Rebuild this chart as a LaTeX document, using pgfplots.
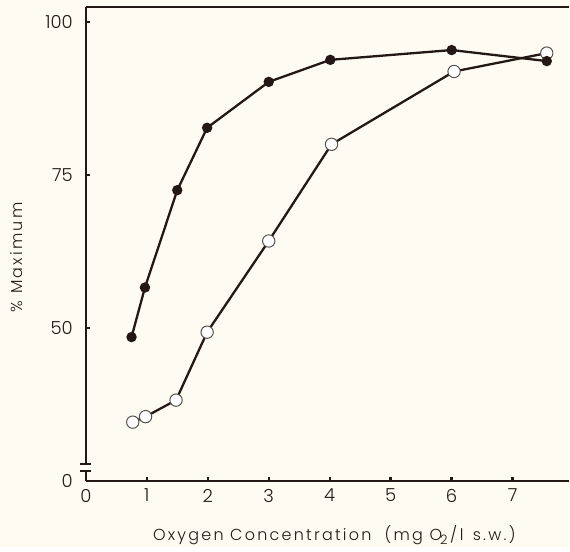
\documentclass[border=0pt]{standalone}
\usepackage{pgfplots}
\pgfplotsset{compat=1.18}
\usepackage{fontspec}
\setmainfont{Poppins Light}
\newfontfamily\spaced{Poppins Light}[LetterSpace=14]
\definecolor{ink}{HTML}{231815}
\definecolor{bg}{HTML}{FEFCF2}
\definecolor{ring}{HTML}{555050}
\begin{document}
\begin{tikzpicture}
\fill[bg] (-43pt,-33pt) rectangle (242pt,241pt);
\begin{axis}[
  scale only axis, width=242pt, height=237.5pt,
  xmin=0, xmax=7.92, ymin=25, ymax=102.44,
  axis x line*=bottom, axis y line*=left,
  axis line style={ink, line width=1.3pt, -},
  xtick={0,1,2,3,4,5,6,7},
  ytick={25,50,75,100}, yticklabels={0,50,75,100},
  tick align=inside, major tick length=2pt,
  tick style={ink, line width=1.2pt},
  ticklabel style={font=\fontsize{9}{10}\selectfont, text=ink},
  yticklabel style={xshift=-3pt},
  xticklabel style={yshift=-0.5pt},
  /pgf/number format/assume math mode=true,
  xlabel={\spaced Oxygen Concentration \ (mg O\kern-1pt\raisebox{-2pt}{\fontsize{6.5}{7}\selectfont 2}\,/\,l \,s.w.)},
  xlabel style={at={(axis description cs:0.5,0)}, anchor=base, yshift=-30pt, xshift=3.5pt, font=\fontsize{8}{9}\selectfont, text=ink},
  ylabel={\spaced \% Maximum},
  ylabel style={at={(axis description cs:-0.1426,0.4716)}, anchor=center, font=\fontsize{8}{9}\selectfont, text=ink},
  clip=false,
]
\addplot[ink, line width=1.15pt, mark=*, mark size=3.1pt,
  mark options={draw=ring, fill=white, line width=0.5pt}]
  coordinates {(0.77,34.6) (0.98,35.5) (1.48,38.2) (1.99,49.3) (3.0,64.2) (4.03,80.0) (6.04,91.9) (7.56,94.9)};
\addplot[ink, line width=1.15pt, mark=*, mark size=2pt,
  mark options={draw=ink, fill=ink}]
  coordinates {(0.75,48.5) (0.97,56.6) (1.5,72.5) (1.99,82.7) (3.0,90.2) (4.01,93.8) (6.0,95.4) (7.56,93.6)};
\draw[ink, line width=1.3pt] (rel axis cs:0,1) -- (rel axis cs:1,1);
\fill[bg] ([xshift=-2pt]axis cs:0,26.7) rectangle ([xshift=2pt]axis cs:0,27.7);
\draw[ink, line width=1.1pt] ([xshift=-3pt]axis cs:0,26.63) -- ([xshift=2.5pt]axis cs:0,26.63);
\draw[ink, line width=1.1pt] ([xshift=-3pt]axis cs:0,27.77) -- ([xshift=2.5pt]axis cs:0,27.77);
\end{axis}
\end{tikzpicture}
\end{document}
